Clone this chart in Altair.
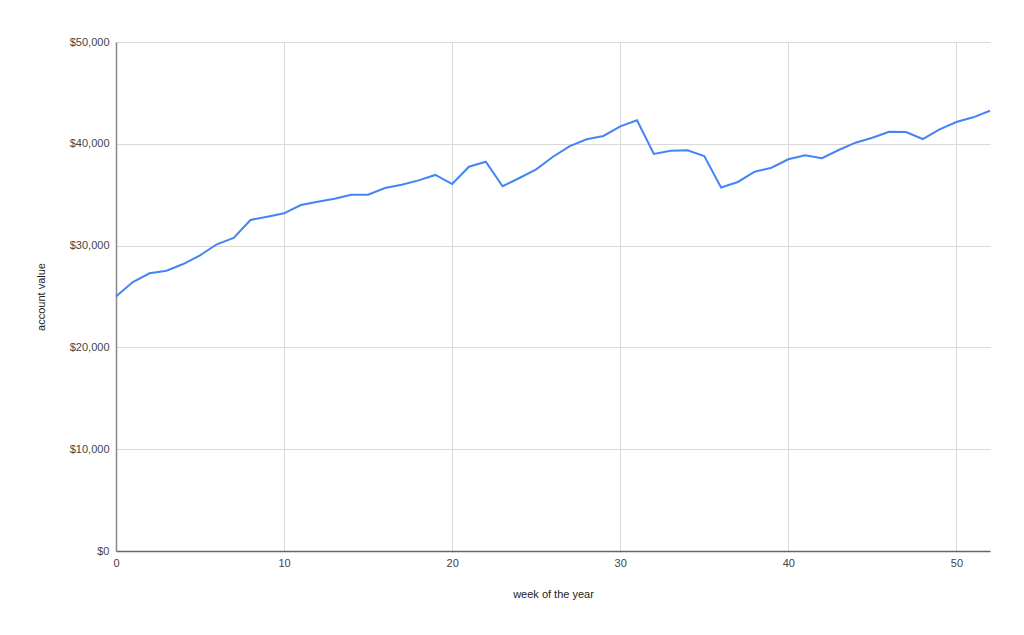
import altair as alt
import pandas as pd

weeks = list(range(0, 53))
values = [25000, 26420, 27280, 27530, 28190, 29050, 30130, 30750, 32520, 32840,
          33170, 33990, 34310, 34610, 35000, 35000, 35660, 35980, 36410, 36940,
          36050, 37750, 38240, 35830, 36640, 37490, 38730, 39780, 40440, 40770,
          41720, 42310, 39000, 39320, 39360, 38800, 35710, 36250, 37260, 37650,
          38480, 38870, 38580, 39390, 40110, 40600, 41190, 41160, 40470, 41420,
          42140, 42600, 43250]
x_ticks = [0, 10, 20, 30, 40, 50]
y_ticks = [0, 10000, 20000, 30000, 40000, 50000]

df = pd.DataFrame({"week": weeks, "value": values})

FONT = "Liberation Sans"

chart = alt.Chart(df).mark_line(color="#4285F4", strokeWidth=2).encode(
    x=alt.X("week:Q",
            scale=alt.Scale(domain=[0, 52], nice=False, zero=False),
            axis=alt.Axis(title="week of the year", values=x_ticks, format="d",
                          grid=True, gridColor="#d9d9d9", domainColor="#666666",
                          domainWidth=1.5, ticks=False, labelPadding=6,
                          labelFlush=False,
                          labelColor="#444444", labelFontSize=11, labelFont=FONT,
                          titleFont=FONT, titleFontSize=11, titleFontWeight="normal",
                          titleColor="#222222", titlePadding=20)),
    y=alt.Y("value:Q",
            scale=alt.Scale(domain=[0, 50000], nice=False),
            axis=alt.Axis(title="account value", values=y_ticks, format="$,.0f",
                          grid=True, gridColor="#d9d9d9", domainColor="#888888",
                          domainWidth=1.5, ticks=False, labelPadding=7,
                          labelFlush=False,
                          labelColor="#444444", labelFontSize=11, labelFont=FONT,
                          titleFont=FONT, titleFontSize=11, titleFontWeight="normal",
                          titleColor="#222222", titlePadding=23)),
).properties(
    width=874,
    height=509,
    autosize=alt.AutoSizeParams(type="none"),
    padding={"left": 108, "top": 34, "right": 26, "bottom": 76},
    background="white",
).configure_view(stroke=None)

chart.save("out.html", embed_options={"renderer": "svg", "actions": False})
